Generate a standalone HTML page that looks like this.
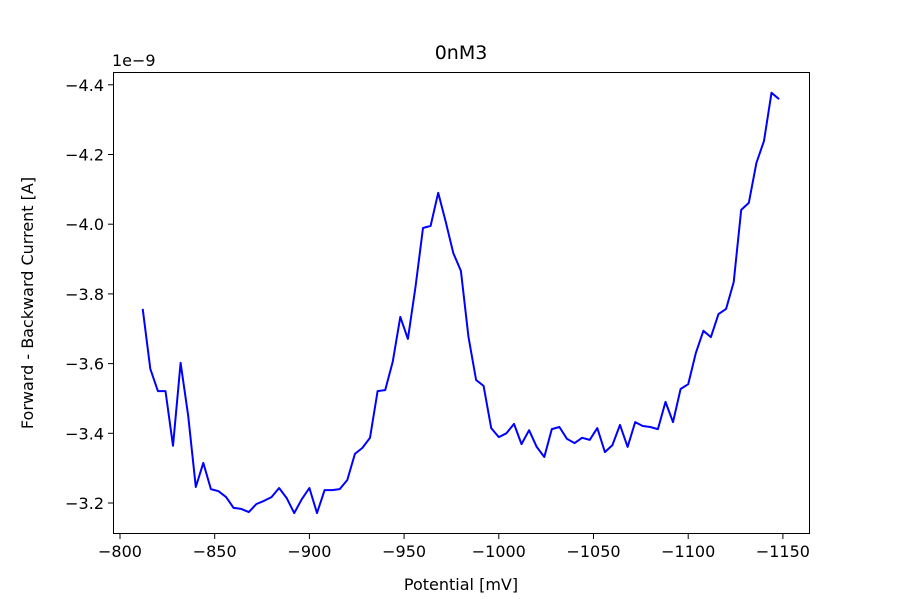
<!DOCTYPE html>
<html><head><meta charset="utf-8"><style>
body{margin:0;background:#fff}
svg text{font-family:"DejaVu Sans","Liberation Sans",sans-serif;fill:#000}
</style></head><body>
<svg id="chart" width="900" height="600" xmlns="http://www.w3.org/2000/svg">
<rect width="900" height="600" fill="#fff"/>
<text x="461" y="59" font-size="19" text-anchor="middle">0nM3</text>
<text x="112" y="66" font-size="16">1e−9</text>
<g id="ticks"></g>
<path id="line" fill="none" stroke="#0000ff" stroke-width="2" stroke-linejoin="round"/>
<rect x="113.5" y="72.5" width="696" height="461" fill="none" stroke="#000" stroke-width="1"/>
<text x="461" y="590" font-size="16" text-anchor="middle">Potential [mV]</text>
<text transform="translate(33,303) rotate(-90)" font-size="16" text-anchor="middle">Forward - Backward Current [A]</text>
</svg>
<script>
const potentials = [];
for (let i = 0; i < 85; i++) potentials.push(-812 - 4 * i);
const currents = [3.757,3.585,3.521,3.521,3.364,3.602,3.45,3.246,3.315,3.24,3.234,3.217,3.186,3.183,3.174,3.197,3.206,3.217,3.243,3.214,3.171,3.211,3.243,3.171,3.237,3.237,3.24,3.266,3.341,3.358,3.387,3.521,3.524,3.605,3.734,3.671,3.82,3.989,3.995,4.09,4.006,3.917,3.866,3.676,3.553,3.536,3.415,3.389,3.4,3.427,3.369,3.409,3.361,3.332,3.412,3.418,3.384,3.372,3.387,3.381,3.415,3.346,3.366,3.424,3.361,3.432,3.421,3.418,3.412,3.49,3.432,3.527,3.541,3.63,3.694,3.676,3.742,3.757,3.834,4.041,4.061,4.176,4.239,4.377,4.359].map(v => -v);
const xTicks = [-800,-850,-900,-950,-1000,-1050,-1100,-1150];
const yTicks = [-4.4,-4.2,-4.0,-3.8,-3.6,-3.4,-3.2];

function xs(v){ return 120 + (-800 - v) * 1.894; }
function ys(v){ return 503 + (v + 3.2) * 348.5; }

const ns = "http://www.w3.org/2000/svg";
const g = document.getElementById('ticks');
function mk(tag, attrs){ const e = document.createElementNS(ns, tag); for (const k in attrs) e.setAttribute(k, attrs[k]); g.appendChild(e); return e; }
xTicks.forEach(t => {
  const x = xs(t);
  const l = mk('line', {x1:x, x2:x, y1:534, y2:539, stroke:'#000'});
  
  
  const tx = mk('text', {x:x, y:557, 'font-size':16, 'text-anchor':'middle'});
  tx.textContent = (t < 0 ? '−' : '') + Math.abs(t);
  
  
});
yTicks.forEach(t => {
  const y = ys(t);
  const l = mk('line', {x1:108, x2:113, y1:y, y2:y, stroke:'#000'});
  
  
  const tx = mk('text', {x:104, y:y+6, 'font-size':16, 'text-anchor':'end'});
  tx.textContent = (t < 0 ? '−' : '') + Math.abs(t).toFixed(1);
  
  
});
document.getElementById('line').setAttribute('d',
  potentials.map((p, i) => (i ? 'L' : 'M') + xs(p).toFixed(1) + ',' + ys(currents[i]).toFixed(1)).join(''));
</script>
</body></html>
